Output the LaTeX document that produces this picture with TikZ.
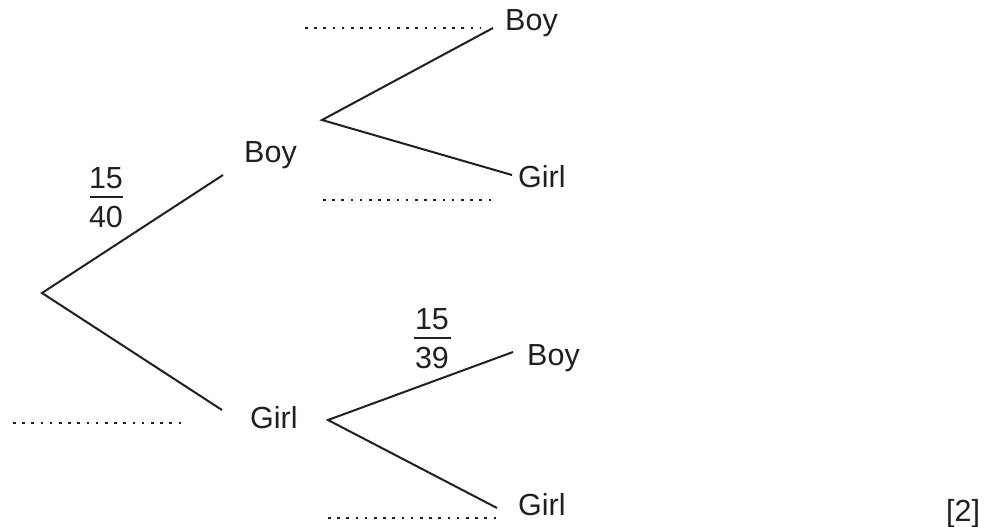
\documentclass[tikz,border=0pt]{standalone}
\usepackage{fontspec}
\setmainfont{Liberation Sans}
\definecolor{ink}{HTML}{231F20}
\begin{document}
\begin{tikzpicture}[x=1pt,y=-1pt,
  lbl/.style={inner sep=0pt,anchor=base west,text=ink,font=\fontsize{30.5}{36}\selectfont},
  num/.style={inner sep=0pt,anchor=base,text=ink,font=\fontsize{30.5}{36}\selectfont},
  branch/.style={draw=ink,line width=2pt},
  bar/.style={draw=ink,line width=1.8pt},
  dotline/.style={draw=ink,line width=2.6pt,dash pattern=on 2.6pt off 6.6pt}]
\useasboundingbox (0,0) rectangle (989,527);
% branch points and line ends
\coordinate (r) at (42,293);
\coordinate (rb) at (223,175);
\coordinate (rg) at (222,410);
\coordinate (b1) at (322,120);
\coordinate (b1b) at (493,28);
\coordinate (b1g) at (512,175);
\coordinate (g1) at (328,420);
\coordinate (g1b) at (513,352);
\coordinate (g1g) at (497,508);
% labels
\node[lbl] (boy1) at (244,162) {Boy};
\node[lbl] (girl1) at (250,428) {Girl};
\node[lbl] (boyboy) at (505,31) {Boy};
\node[lbl] (boygirl) at (518,187) {Girl};
\node[lbl] (girlboy) at (527,365) {Boy};
\node[lbl] (girlgirl) at (518,515) {Girl};
\node[lbl] (marks) at (946,521) {[2]};
% fractions
\node[num] (f1n) at (106,188) {15};
\node[num] (f1d) at (106,227) {40};
\coordinate (f1l) at (90,197);
\coordinate (f1r) at (123,197);
\draw[bar] (f1l) -- (f1r);
\node[num] (f2n) at (432,329) {15};
\node[num] (f2d) at (432,368) {39};
\coordinate (f2l) at (414,338);
\coordinate (f2r) at (451,338);
\draw[bar] (f2l) -- (f2r);
% branches
\draw[branch] (rb) -- (r) -- (rg);
\draw[branch] (b1b) -- (b1) -- (b1g);
\draw[branch] (g1b) -- (g1) -- (g1g);
% dotted answer lines
\coordinate (d1a) at (305,28); \coordinate (d1b) at (480,28);
\coordinate (d2a) at (323,200); \coordinate (d2b) at (497,200);
\coordinate (d3a) at (13,423); \coordinate (d3b) at (187,423);
\coordinate (d4a) at (328,518); \coordinate (d4b) at (500,518);
\draw[dotline] (d1a) -- (d1b);
\draw[dotline] (d2a) -- (d2b);
\draw[dotline] (d3a) -- (d3b);
\draw[dotline] (d4a) -- (d4b);
\end{tikzpicture}
\end{document}
